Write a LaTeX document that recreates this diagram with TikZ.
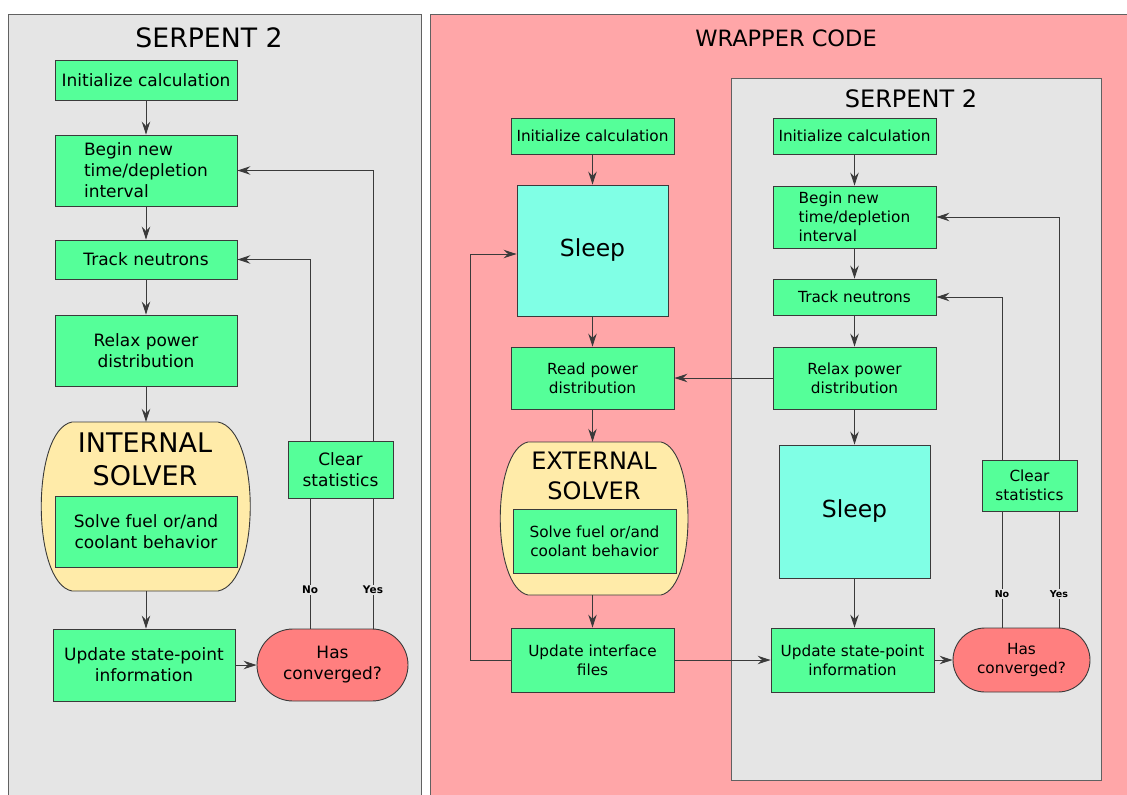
\documentclass[tikz,border=0pt]{standalone}
\usepackage{fontspec}
\setmainfont{DejaVu Sans}
\usepackage{xcolor}
\usetikzlibrary{arrows.meta,shapes.misc,positioning}

\definecolor{boxgreen}{HTML}{55FF99}
\definecolor{panelgray}{HTML}{E5E5E5}
\definecolor{wrapred}{HTML}{FFA6A8}
\definecolor{sleepcyan}{HTML}{80FFE5}
\definecolor{solveryellow}{HTML}{FFEBA9}
\definecolor{convred}{HTML}{FF7F7F}
\definecolor{edgegray}{HTML}{3A3A3A}

\tikzset{
  panel/.style={draw=edgegray!80, line width=1pt},
  lbox/.style={rectangle, draw=edgegray, fill=boxgreen, line width=0.9pt, align=center, inner sep=2pt, minimum width=182pt, font=\fontsize{17}{21}\selectfont},
  rbox/.style={lbox, minimum width=163pt, font=\fontsize{15.3}{19}\selectfont},
  sleepbox/.style={rectangle, draw=edgegray, fill=sleepcyan, line width=0.9pt, minimum width=151pt, font=\fontsize{23.5}{28}\selectfont},
  decide/.style={rounded rectangle, draw=edgegray, fill=convred, line width=0.9pt, align=center, inner sep=2pt},
  capsule/.style={draw=edgegray, fill=solveryellow, line width=0.9pt},
  flow/.style={->, draw=edgegray, line width=0.9pt},
  yn/.style={fill=panelgray, inner sep=1.5pt, font=\bfseries\fontsize{10.5}{12}\selectfont},
}

\begin{document}
\begin{tikzpicture}[x=1pt,y=-1pt,>={Stealth[length=13pt,width=8.5pt,inset=4.5pt]}]
                \useasboundingbox (0,0) rectangle (1127,795);

                % panels
                \draw[panel, fill=panelgray] (8,14) rectangle (421,810);
                \draw[panel, fill=wrapred] (430,14) rectangle (1140,810);
                \draw[panel, fill=panelgray] (731,78) rectangle (1101,780);

                \node[font=\fontsize{26.7}{32}\selectfont] (ttl1) at (209,38) {SERPENT 2};
                \node[font=\fontsize{22.5}{26}\selectfont] (ttlw) at (786,38) {WRAPPER CODE};
                \node[font=\fontsize{24}{29}\selectfont] (ttl2) at (911,99) {SERPENT 2};

                % solver capsules
                \draw[capsule] (72,422) -- (218,422) .. controls (261,430) and (261,583) .. (218,591)
                        -- (72,591) .. controls (31,583) and (31,430) .. (72,422) -- cycle;
                \draw[capsule] (528,442) -- (661,442) .. controls (697,450) and (697,587) .. (661,595)
                        -- (528,595) .. controls (491,587) and (491,450) .. (528,442) -- cycle;
                \node[minimum width=209pt, minimum height=169pt] (isol) at (146,506.5) {};
                \node[minimum width=188pt, minimum height=153pt] (esol) at (592.5,518.5) {};
                \node[align=center, font=\fontsize{27}{33}\selectfont] (isolt) at (145,459) {INTERNAL\\SOLVER};
                \node[align=center, font=\fontsize{24}{30}\selectfont] (esolt) at (594,476) {EXTERNAL\\SOLVER};

                % serpent alone
                \node[lbox, minimum height=40pt] (init1) at (146,80) {Initialize calculation};
                \node[lbox, minimum height=71pt, align=left] (begin1) at (146,170.5) {Begin new\\time/depletion\\interval};
                \node[lbox, minimum height=39pt] (track1) at (146,259.5) {Track neutrons};
                \node[lbox, minimum height=71pt] (relax1) at (146,350.5) {Relax power\\distribution};
                \node[lbox, minimum height=71pt] (solve1) at (146,532) {Solve fuel or/and\\coolant behavior};
                \node[lbox, minimum height=72pt] (upd1) at (144,665) {Update state-point\\information};
                \node[decide, minimum width=155pt, minimum height=72pt, font=\fontsize{17}{21}\selectfont] (conv1) at (332.5,665) {Has\\converged?};
                \coordinate (no1) at (310,629);
                \coordinate (yes1) at (373,629);

                % wrapper
                \node[rbox, minimum height=36pt] (winit) at (592.5,136) {Initialize calculation};
                \node[sleepbox, minimum height=131pt] (sleepw) at (592.5,250.5) {Sleep};
                \node[rbox, minimum height=62pt] (read) at (592.5,378) {Read power\\distribution};
                \node[rbox, minimum height=64pt] (solvew) at (594.5,541) {Solve fuel or/and\\coolant behavior};
                \node[rbox, minimum height=64pt] (updif) at (592.5,660) {Update interface\\files};

                % serpent inside wrapper
                \node[rbox, minimum height=36pt] (sinit) at (854.5,136) {Initialize calculation};
                \node[rbox, minimum height=62pt, align=left] (sbegin) at (854.5,217) {Begin new\\time/depletion\\interval};
                \node[rbox, minimum height=36pt] (strack) at (854.5,297) {Track neutrons};
                \node[rbox, minimum height=62pt] (srelax) at (854.5,378) {Relax power\\distribution};
                \node[sleepbox, minimum height=133pt] (sleep2) at (854.5,511.5) {Sleep};
                \node[rbox, minimum height=64pt] (upd2) at (852.5,660) {Update state-point\\information};
                \node[decide, minimum width=141pt, minimum height=64pt, font=\fontsize{15.3}{19}\selectfont] (conv2) at (1021.5,660) {Has\\converged?};
                \coordinate (no2) at (1002,628);
                \coordinate (yes2) at (1059,628);

                % arrows
                \draw[flow] (init1) -- (begin1);
                \draw[flow] (begin1) -- (track1);
                \draw[flow] (track1) -- (relax1);
                \draw[flow] (relax1) -- (isol);
                \draw[flow] (isol) -- (isol |- upd1.north);
                \draw[flow] (upd1) -- (conv1);
                \draw[flow] (no1) |- (track1.east);
                \draw[flow] (yes1) |- (begin1.east);

                \draw[flow] (winit) -- (sleepw);
                \draw[flow] (sleepw) -- (read);
                \draw[flow] (read) -- (esol);
                \draw[flow] (esol) -- (updif);
                \draw[flow] (updif.west) -- ++(-40,0) |- ([yshift=-3.5pt]sleepw.west);
                \draw[flow] (updif) -- (upd2);
                \draw[flow] (srelax) -- (read);

                \draw[flow] (sinit) -- (sbegin);
                \draw[flow] (sbegin) -- (strack);
                \draw[flow] (strack) -- (srelax);
                \draw[flow] (srelax) -- (sleep2);
                \draw[flow] (sleep2) -- (sleep2 |- upd2.north);
                \draw[flow] (upd2) -- (conv2);
                \draw[flow] (no2) |- (strack.east);
                \draw[flow] (yes2) |- (sbegin.east);

                % boxes over the loops
                \node[lbox, minimum width=105pt, minimum height=57pt] (clear1) at (340.5,470) {Clear\\statistics};
                \node[rbox, minimum width=95pt, minimum height=51pt] (clear2) at (1029.5,485.5) {Clear\\statistics};
                \node[yn] (nol1) at (310,590) {No};
                \node[yn] (yesl1) at (373,590) {Yes};
                \node[yn, font=\bfseries\fontsize{9.5}{11}\selectfont] (nol2) at (1002,594) {No};
                \node[yn, font=\bfseries\fontsize{9.5}{11}\selectfont] (yesl2) at (1059,594) {Yes};
             \end{tikzpicture}
\end{document}
